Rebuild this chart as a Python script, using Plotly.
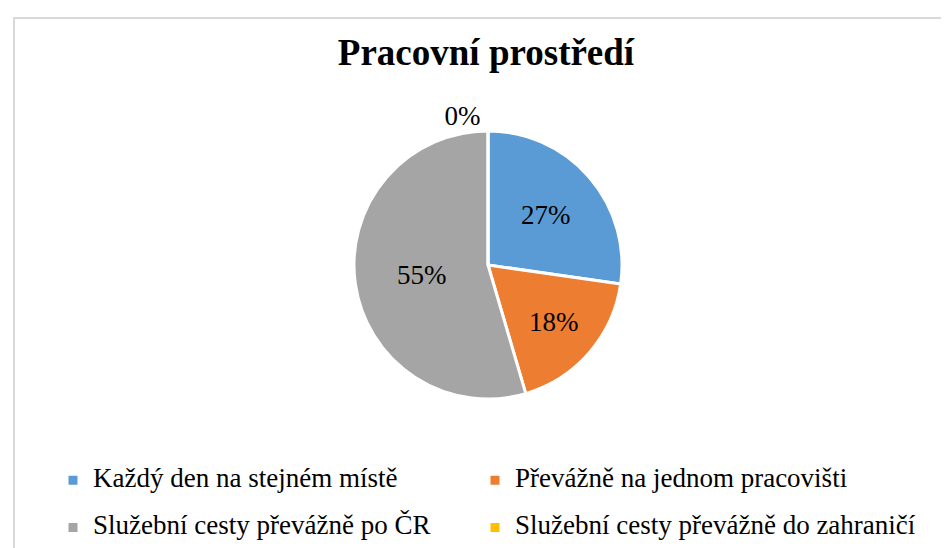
import plotly.graph_objects as go

categories = ["Každý den na stejném místě", "Převážně na jednom pracovišti",
              "Služební cesty převážně po ČR", "Služební cesty převážně do zahraničí"]
values = [3, 2, 6, 0]
colors = ["#5B9BD5", "#ED7D31", "#A5A5A5", "#FFC000"]
title_text = "Pracovní prostředí"

W, H = 949, 548
ml, mr, mt, mb = 18, 7, 123, 157
pw, ph = W - ml - mr, H - mt - mb

# legend entries: label in 27px text plus an empty second line for row spacing
legend_labels = ["<span style='font-size:27px'>" + c + "</span><br> " for c in categories]

fig = go.Figure(go.Pie(
    labels=legend_labels, values=values, sort=False, direction="clockwise", rotation=0,
    customdata=categories,
    marker=dict(colors=colors, line=dict(color="white", width=3)),
    texttemplate="%{percent:.0%}",
    hovertemplate="%{customdata}: %{percent}<extra></extra>",
    textposition=["inside", "inside", "inside", "outside"],
    insidetextorientation="horizontal",
    textfont=dict(family="Liberation Serif", size=27, color="black"),
    showlegend=True,
))

fig.update_layout(
    width=W, height=H,
    margin=dict(l=ml, r=mr, t=mt, b=mb, autoexpand=False),
    paper_bgcolor="white",
    title=dict(text="<b>" + title_text + "</b>", x=478 / W, xanchor="center",
               y=1 - 44 / H, yanchor="middle", yref="container",
               font=dict(family="Liberation Serif", size=37, color="black")),
    legend=dict(orientation="h", x=(45 - ml) / pw, xanchor="left",
                yref="container", y=1 - 443 / H, yanchor="top",
                entrywidth=377, entrywidthmode="pixels", valign="top",
                font=dict(family="Liberation Serif", size=17, color="black"),
                # invisible spacer title widens the legend box so long labels are not clipped
                title=dict(text="M" * 110, side="top",
                           font=dict(family="Liberation Serif", size=9, color="rgba(0,0,0,0)")),
                itemwidth=30, traceorder="normal"),
    shapes=[dict(type="rect", xref="paper", yref="paper",
                 x0=(6 - ml) / pw, x1=(W + 10 - ml) / pw,
                 y0=-(mb + 10) / ph, y1=(H - mb - 10) / ph,
                 line=dict(color="#D9D9D9", width=2), fillcolor="rgba(0,0,0,0)", layer="below")],
)

fig.write_html("out.html")
